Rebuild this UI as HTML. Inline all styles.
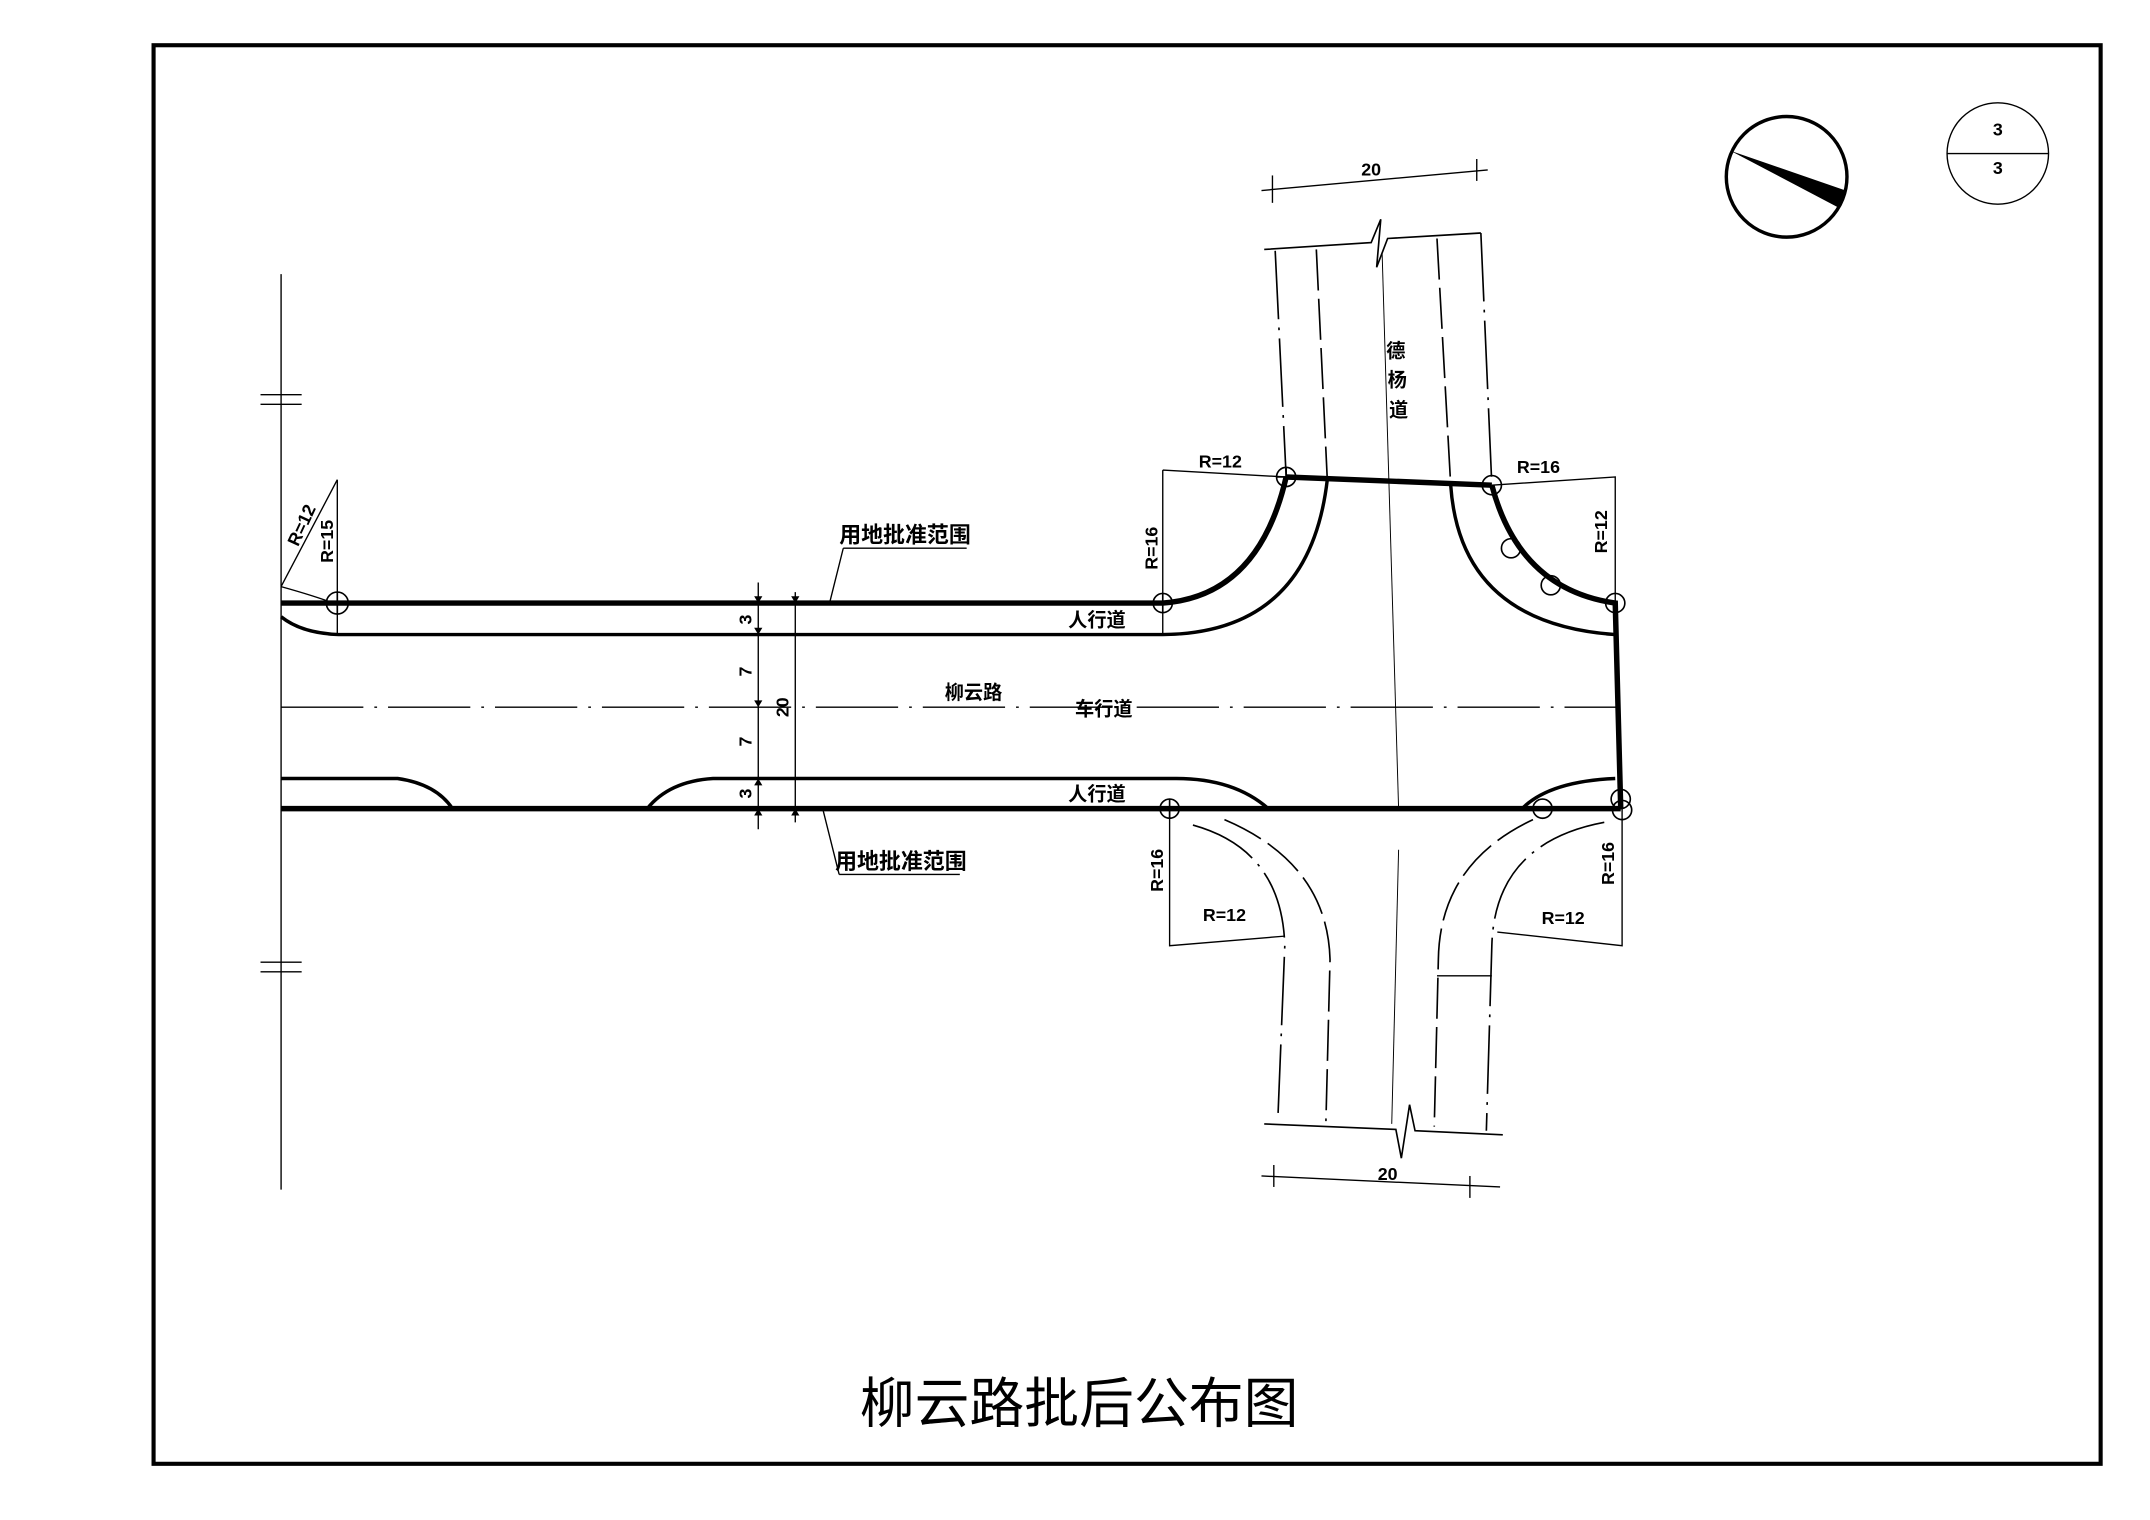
<!DOCTYPE html>
<html><head><meta charset="utf-8"><style>
html,body{margin:0;padding:0;background:#fff;width:2150px;height:1520px;overflow:hidden}
svg{display:block}
text{font-family:"Liberation Sans","Noto Sans CJK SC",sans-serif;font-weight:bold;fill:#000}
</style></head><body>
<svg width="2150" height="1520" viewBox="0 0 1568 1109" preserveAspectRatio="none" xmlns="http://www.w3.org/2000/svg">
<g fill="none" stroke="#000">
<rect x="112" y="33" width="1420" height="1035" stroke-width="3"/>
<line x1="205" y1="200" x2="205" y2="868" stroke-width="1"/>
<line x1="190" y1="288" x2="220" y2="288" stroke-width="1"/><line x1="190" y1="295" x2="220" y2="295" stroke-width="1"/>
<line x1="190" y1="702" x2="220" y2="702" stroke-width="1"/><line x1="190" y1="709" x2="220" y2="709" stroke-width="1"/>
<path d="M205 440 H848 Q918 435 938 348" stroke-width="4"/>
<line x1="938" y1="348" x2="1088" y2="354" stroke-width="4"/>
<path d="M1088 354 Q1108 430 1178 440 L1182 590" stroke-width="4"/>
<line x1="205" y1="590" x2="1182" y2="590" stroke-width="4"/>
<path d="M205 450 Q220 462 247 463 H848 Q955 462 968 350" stroke-width="2.5"/>
<path d="M1058 354 Q1065 455 1178 463" stroke-width="2.5"/>
<path d="M205 568 H290 Q318 572 330 590" stroke-width="2.5"/>
<path d="M472 590 Q488 570 520 568 H858 Q900 568 925 590" stroke-width="2.5"/>
<path d="M1110 590 Q1130 570 1178 568" stroke-width="2.5"/>
<line x1="205" y1="516" x2="1180" y2="516" stroke-width="1" stroke-dasharray="60,8,2,8"/>
<path d="M922 182 L1000 177 L1007 160 L1004 195 L1012 174 L1080 170" stroke-width="1.2"/>
<line x1="930" y1="183" x2="938" y2="348" stroke-width="1.2" stroke-dasharray="50,6,2,6"/>
<line x1="960" y1="182" x2="968" y2="350" stroke-width="1.2" stroke-dasharray="30,6"/>
<line x1="1008" y1="185" x2="1020" y2="590" stroke-width="0.7"/>
<line x1="1048" y1="174" x2="1058" y2="354" stroke-width="1.2" stroke-dasharray="30,6"/>
<line x1="1080" y1="170" x2="1088" y2="354" stroke-width="1.2" stroke-dasharray="50,6,2,6"/>
<line x1="920" y1="139" x2="1085" y2="124" stroke-width="1"/>
<line x1="928" y1="128" x2="928" y2="148" stroke-width="1"/><line x1="1077" y1="116" x2="1077" y2="132" stroke-width="1"/>
<path d="M870 602 Q935 620 937 690 L932 815" stroke-width="1.2" stroke-dasharray="50,6,2,6"/>
<path d="M893 598 Q968 630 970 700 L967 818" stroke-width="1.2" stroke-dasharray="30,6"/>
<path d="M1118 598 Q1050 630 1049 700 L1046 822" stroke-width="1.2" stroke-dasharray="30,6"/>
<path d="M1170 600 Q1090 615 1088 690 L1084 825" stroke-width="1.2" stroke-dasharray="50,6,2,6"/>
<line x1="1020" y1="620" x2="1015" y2="820" stroke-width="0.7"/>
<line x1="1048" y1="712" x2="1088" y2="712" stroke-width="1"/>
<path d="M922 820 L1018 824 L1022 845 L1028 806 L1032 825 L1096 828" stroke-width="1.2"/>
<line x1="920" y1="858" x2="1094" y2="866" stroke-width="1"/>
<line x1="929" y1="850" x2="929" y2="866" stroke-width="1"/><line x1="1072" y1="858" x2="1072" y2="874" stroke-width="1"/>
<line x1="246" y1="350" x2="205" y2="428" stroke-width="1"/>
<line x1="246" y1="350" x2="246" y2="463" stroke-width="1"/>
<path d="M205 428 Q230 435 243 440" stroke-width="1"/>
<path d="M848 343 L938 348 M848 343 V463" stroke-width="1"/>
<path d="M1088 354 L1178 348 V440" stroke-width="1"/>
<path d="M853 590 V690 L937 683" stroke-width="1"/>
<path d="M1183 590 V690 L1092 680" stroke-width="1"/>
<line x1="553" y1="425" x2="553" y2="605" stroke-width="1"/>
<line x1="580" y1="432" x2="580" y2="600" stroke-width="1"/>
<path d="M615 400 H705 M615 400 L605 440" stroke-width="1"/>
<path d="M612 638 H700 M612 638 L600 590" stroke-width="1"/>
<g stroke-width="1.2">
<circle cx="246" cy="440" r="8"/><circle cx="848" cy="440" r="7"/><circle cx="938" cy="348" r="7"/>
<circle cx="1088" cy="354" r="7"/><circle cx="1178" cy="440" r="7"/><circle cx="853" cy="590" r="7"/>
<circle cx="1125" cy="590" r="7"/><circle cx="1182" cy="583" r="7"/><circle cx="1183" cy="591" r="7"/>
<circle cx="1102" cy="400" r="7"/><circle cx="1131" cy="427" r="7"/>
<path d="M246 432 V448 M238 440 H254 M848 433 V447 M841 440 H855 M938 341 V355 M931 348 H945 M853 583 V597 M846 590 H860"/>
</g>
<circle cx="1303" cy="129" r="44" stroke-width="2.5"/>
<circle cx="1457" cy="112" r="37" stroke-width="1"/>
<line x1="1420" y1="112" x2="1494" y2="112" stroke-width="1"/>
</g>
<polygon points="1262,110 1346,139 1340,151" fill="#000"/>
<g fill="#000">
<path d="M553 440 l-3 -5 l6 0z M553 463 l-3 -5 l6 0z M553 516 l-3 -5 l6 0z M553 568 l-3 5 l6 0z M553 590 l-3 5 l6 0z M580 440 l-3 -5 l6 0z M580 590 l-3 5 l6 0z"/>
</g>
<g font-size="13" text-anchor="middle">
<text x="1000" y="128">20</text>
<text x="1012" y="861">20</text>
<text x="890" y="341">R=12</text>
<text x="1122" y="345">R=16</text>
<text x="893" y="672">R=12</text>
<text x="1140" y="674">R=12</text>
<text transform="translate(844,400) rotate(-90)">R=16</text>
<text transform="translate(1172,388) rotate(-90)">R=12</text>
<text transform="translate(848,635) rotate(-90)">R=16</text>
<text transform="translate(1177,630) rotate(-90)">R=16</text>
<text transform="translate(224,385) rotate(-65)">R=12</text>
<text transform="translate(243,395) rotate(-90)">R=15</text>
<text transform="translate(548,452) rotate(-90)">3</text>
<text transform="translate(548,490) rotate(-90)">7</text>
<text transform="translate(548,541) rotate(-90)">7</text>
<text transform="translate(548,579) rotate(-90)">3</text>
<text transform="translate(575,516) rotate(-90)">20</text>
<text x="1457" y="99">3</text>
<text x="1457" y="127">3</text>
</g>
<g font-size="14" text-anchor="middle">
<text x="660" y="396" font-size="16">用地批准范围</text>
<text x="657" y="634" font-size="16">用地批准范围</text>
<text x="800" y="457">人行道</text>
<text x="800" y="584">人行道</text>
<text x="710" y="510">柳云路</text>
<text x="805" y="522">车行道</text>
<text x="1018" y="261">德</text>
<text x="1019" y="282">杨</text>
<text x="1020" y="304">道</text>
</g>
<text x="787" y="1038" font-size="40" text-anchor="middle" style="font-weight:normal">柳云路批后公布图</text>
</svg>
</body></html>
